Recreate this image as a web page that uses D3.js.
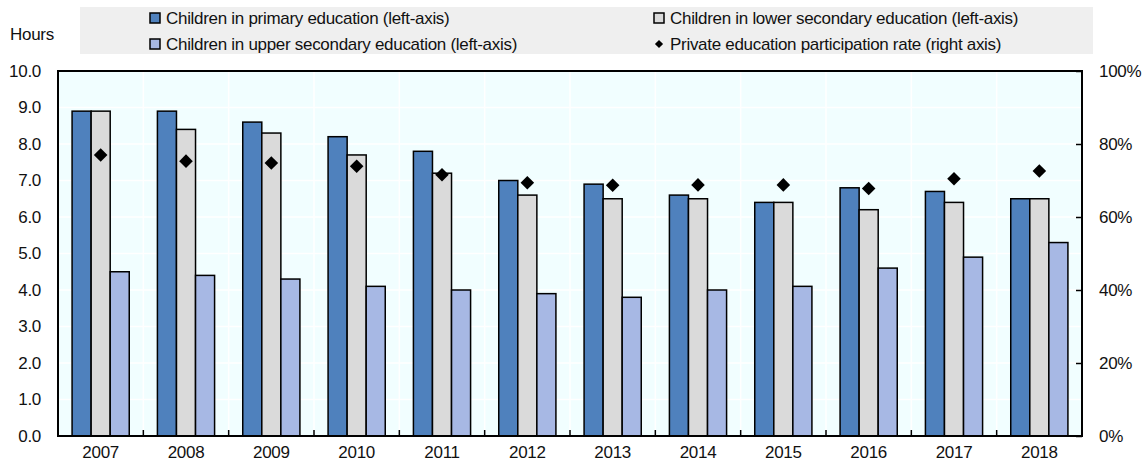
<!DOCTYPE html>
<html>
<head>
<meta charset="utf-8">
<script src="https://cdn.jsdelivr.net/npm/d3@7"></script>
<style>
  html, body { margin: 0; padding: 0; background: #ffffff; }
  svg { display: block; font-family: "Liberation Sans", Arial, sans-serif; }
  svg text { letter-spacing: -0.3px; }
</style>
</head>
<body>
<svg id="chart" width="1148" height="464"></svg>
<script>
// Years and average weekly hours of private education per child
const years = ["2007", "2008", "2009", "2010", "2011", "2012", "2013", "2014", "2015", "2016", "2017", "2018"];
const primaryHours = [8.9, 8.9, 8.6, 8.2, 7.8, 7.0, 6.9, 6.6, 6.4, 6.8, 6.7, 6.5];
const lowerSecondaryHours = [8.9, 8.4, 8.3, 7.7, 7.2, 6.6, 6.5, 6.5, 6.4, 6.2, 6.4, 6.5];
const upperSecondaryHours = [4.5, 4.4, 4.3, 4.1, 4.0, 3.9, 3.8, 4.0, 4.1, 4.6, 4.9, 5.3];
// Private education participation rate, %
const participationRate = [77.0, 75.3, 74.8, 73.9, 71.6, 69.4, 68.7, 68.8, 68.8, 67.8, 70.5, 72.6];

const leftTicks = [0, 1, 2, 3, 4, 5, 6, 7, 8, 9, 10];
const rightTicks = [0, 20, 40, 60, 80, 100];

const seriesNames = [
  "Children in primary education (left-axis)",
  "Children in lower secondary education (left-axis)",
  "Children in upper secondary education (left-axis)",
  "Private education participation rate (right axis)"
];

const barSeries = [
  { name: seriesNames[0], values: primaryHours, color: "#4f81bd" },
  { name: seriesNames[1], values: lowerSecondaryHours, color: "#dadada" },
  { name: seriesNames[2], values: upperSecondaryHours, color: "#a7b8e4" }
];

const FONT = 17;
const svg = d3.select("#chart");
const plot = { left: 58, right: 1082, top: 71, bottom: 436 };

const x = d3.scaleBand().domain(years).range([plot.left, plot.right]).paddingInner(0).paddingOuter(0);
const groupWidth = x.bandwidth() * 0.67;
const xSub = d3.scaleBand().domain(d3.range(barSeries.length)).range([0, groupWidth]).padding(0);
const yLeft = d3.scaleLinear().domain([0, 10]).range([plot.bottom, plot.top]);
const yRight = d3.scaleLinear().domain([0, 100]).range([plot.bottom, plot.top]);

// Plot background
svg.append("rect")
  .attr("x", plot.left).attr("y", plot.top)
  .attr("width", plot.right - plot.left).attr("height", plot.bottom - plot.top)
  .attr("fill", "#f1feff");

// White gridlines
const grid = svg.append("g").attr("stroke", "#ffffff").attr("stroke-width", 1.5);
grid.selectAll("line.h").data(leftTicks.slice(1, -1)).join("line")
  .attr("x1", plot.left).attr("x2", plot.right)
  .attr("y1", d => yLeft(d)).attr("y2", d => yLeft(d));
grid.selectAll("line.v").data(years.slice(1)).join("line")
  .attr("x1", d => x(d)).attr("x2", d => x(d))
  .attr("y1", plot.top).attr("y2", plot.bottom);

// Bars
const groups = svg.append("g").selectAll("g").data(years).join("g")
  .attr("transform", d => `translate(${x(d) + (x.bandwidth() - groupWidth) / 2},0)`);
groups.selectAll("rect")
  .data((d, i) => barSeries.map((s, k) => ({ k, v: s.values[i], color: s.color })))
  .join("rect")
  .attr("x", d => xSub(d.k))
  .attr("width", xSub.bandwidth())
  .attr("y", d => yLeft(d.v))
  .attr("height", d => yLeft(0) - yLeft(d.v))
  .attr("fill", d => d.color)
  .attr("stroke", "#000")
  .attr("stroke-width", 1.5);

// Participation rate markers (right axis)
const diamond = d3.symbol().type(d3.symbolSquare).size(92);
svg.append("g").selectAll("path").data(participationRate).join("path")
  .attr("d", diamond)
  .attr("transform", (d, i) => `translate(${x(years[i]) + (x.bandwidth() - groupWidth) / 2 + xSub(1) + xSub.bandwidth() / 2},${yRight(d)}) rotate(45)`)
  .attr("fill", "#000");

// Frame
svg.append("rect")
  .attr("x", plot.left).attr("y", plot.top)
  .attr("width", plot.right - plot.left).attr("height", plot.bottom - plot.top)
  .attr("fill", "none").attr("stroke", "#000").attr("stroke-width", 2);

// Left axis (labels only)
const leftAxis = d3.axisLeft(yLeft).tickValues(leftTicks).tickFormat(d3.format(".1f")).tickSize(0).tickPadding(17);
svg.append("g").attr("transform", `translate(${plot.left},0)`).call(leftAxis)
  .call(g => g.select(".domain").remove())
  .call(g => g.selectAll("text").attr("font-size", FONT).attr("fill", "#111").attr("font-family", null));

// Right axis with inward ticks
const rightAxis = d3.axisRight(yRight).tickValues(rightTicks).tickFormat(d => d + "%").tickSizeInner(-6).tickSizeOuter(0).tickPadding(17);
svg.append("g").attr("transform", `translate(${plot.right},0)`).call(rightAxis)
  .call(g => g.select(".domain").remove())
  .call(g => g.selectAll("line").attr("stroke", "#000").attr("stroke-width", 1.5))
  .call(g => g.selectAll("text").attr("font-size", FONT).attr("fill", "#111").attr("font-family", null));

// Bottom axis: category labels plus inward ticks at category boundaries
const bottomAxis = d3.axisBottom(x).tickSize(0).tickPadding(10);
svg.append("g").attr("transform", `translate(0,${plot.bottom})`).call(bottomAxis)
  .call(g => g.select(".domain").remove())
  .call(g => g.selectAll("text").attr("font-size", FONT).attr("fill", "#111").attr("font-family", null));
svg.append("g").selectAll("line").data(years.slice(1)).join("line")
  .attr("x1", d => x(d)).attr("x2", d => x(d))
  .attr("y1", plot.bottom).attr("y2", plot.bottom - 6)
  .attr("stroke", "#000").attr("stroke-width", 1.5);

// Axis unit
svg.append("text").attr("x", 10).attr("y", 34).attr("dy", "0.35em")
  .attr("font-size", FONT).attr("fill", "#111").text("Hours");

// Legend
svg.append("rect").attr("x", 80).attr("y", 7).attr("width", 1013).attr("height", 47).attr("fill", "#efefef");
const legendItems = [
  { label: seriesNames[0], color: barSeries[0].color, shape: "box", lx: 150, ly: 18 },
  { label: seriesNames[1], color: barSeries[1].color, shape: "box", lx: 654, ly: 18 },
  { label: seriesNames[2], color: barSeries[2].color, shape: "box", lx: 150, ly: 44 },
  { label: seriesNames[3], color: "#000", shape: "diamond", lx: 654, ly: 44 }
];
const leg = svg.append("g").selectAll("g").data(legendItems).join("g")
  .attr("transform", d => `translate(${d.lx},${d.ly})`);
leg.filter(d => d.shape === "box").append("rect")
  .attr("x", 0).attr("y", -5).attr("width", 10).attr("height", 10)
  .attr("fill", d => d.color).attr("stroke", "#000").attr("stroke-width", 1.5);
leg.filter(d => d.shape === "diamond").append("path")
  .attr("d", d3.symbol().type(d3.symbolSquare).size(34))
  .attr("transform", "translate(5,0) rotate(45)").attr("fill", "#000");
leg.append("text").attr("x", 16).attr("dy", "0.35em")
  .attr("font-size", FONT).attr("fill", "#111").text(d => d.label);
</script>
</body>
</html>
